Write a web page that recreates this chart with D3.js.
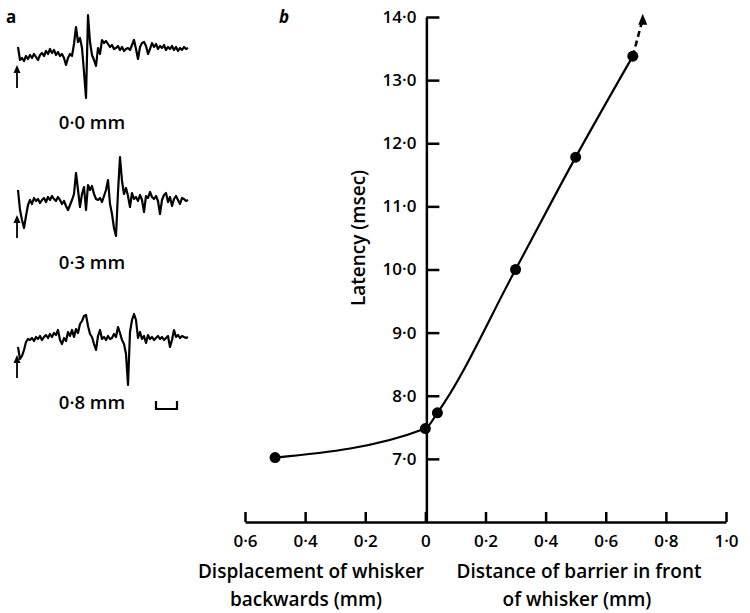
<!DOCTYPE html>
<html>
<head>
<meta charset="utf-8">
<script src="https://cdn.jsdelivr.net/npm/d3@7"></script>
<style>
  body { margin: 0; background: #fff; }
  svg text { font-family: "Open Sans", sans-serif; font-weight: 600; fill: #000; }
</style>
</head>
<body>
<div id="chart"></div>
<script>
// panel b data: distance (mm, negative = whisker displaced backwards) vs latency (msec)
const distance = [-0.5, 0, 0.04, 0.3, 0.5, 0.69];
const latency = [7.02, 7.48, 7.73, 10.0, 11.78, 13.38];
// dashed continuation beyond last point
const extDistance = [0.69, 0.723];
const extLatency = [13.38, 14.05];

const xTicks = [-0.6, -0.4, -0.2, 0, 0.2, 0.4, 0.6, 0.8, 1.0];
const yTicks = [7, 8, 9, 10, 11, 12, 13, 14];

// panel a: sampled potentials (arbitrary amplitude, up = positive)
const trace00 = [5, -8, -6, -9, -4, -7, -3, -6, -2, -5, -8, -3, -1, -4, 1, -2, 3, -1, 2, -3, 0, -4, -2, -6, -13,
  -6, -2, -4, 8, 25, 10, 14, 4, -20, -46, 37, 10, -3, -8, -14, 4, -2, 12, 9, 11, 8, 5, 7, 3, 4, 6, 2, 5, 1, 3,
  4, 2, 7, 12, 3, -7, 5, 9, 10, 6, -2, 3, 9, 5, 8, 3, 6, 4, 7, 2, 5, 3, 6, 2, 5, 1, 4, 2, 5, 3, 4];
const trace03 = [12, -8, -18, -26, -14, -3, 2, -2, 4, 1, 3, -1, 2, 4, 0, 5, 2, 6, 3, 1, 5, 2, -2, 1, -4,
  -8, -3, 2, 8, 29, 12, -5, 8, 15, -8, 17, 12, 16, 8, 3, 2, 4, 0, 6, 12, 22, -2, -12, -26, -34, 10, 45, 21, 8, 14,
  6, -5, 9, 3, 5, 1, 7, 2, -10, 6, 4, 10, 5, 3, 6, 1, -12, 2, 7, 9, 0, 5, -4, 3, 6, 2, -2, 4, 3, 1, 2];
const trace08 = [-5, -17, -14, -8, 0, 3, 2, 4, 1, 5, 3, 6, 2, 5, 7, 4, 8, 5, 9, 7, 12, 2, -2, 4, 1,
  10, 6, 12, 5, 13, 9, 18, 21, 26, 27, 16, 8, 5, -2, -8, 6, 12, 3, 5, 2, 6, 3, 4, 8, 5, 15, 9, 2, -2, -12,
  -43, 10, 22, 28, 22, 4, 10, 3, 6, -1, 7, 3, 5, 2, 4, 6, 3, 5, 2, 4, 6, -5, 2, 12, 5, 7, 4, 6, 5, 4, 5];
const traces = [trace00, trace03, trace08];
const traceLabels = ["0·0 mm", "0·3 mm", "0·8 mm"];
const traceBase = [52, 202, 342];
const labelBase = [129, 269, 409];

const W = 750, H = 613;
const svg = d3.select("#chart").append("svg")
    .attr("width", W)
    .attr("height", H);

// ---------- panel b ----------
const x = d3.scaleLinear().domain([-0.6, 1.0]).range([245, 726]);
const y = d3.scaleLinear().domain([6, 14]).range([522, 17]);

const fmt = d => d === 0 ? "0" : d3.format(".1f")(Math.abs(d)).replace(".", "·");

// x axis, ticks pointing up
const xAxis = svg.append("g")
    .attr("transform", "translate(0," + y(6) + ")")
    .call(d3.axisBottom(x).tickValues(xTicks).tickSize(-10).tickSizeOuter(0).tickPadding(13).tickFormat(fmt));
xAxis.select(".domain").attr("stroke-width", 2.5);
xAxis.selectAll(".tick line").attr("stroke-width", 2.5);
xAxis.selectAll(".tick text").style("font-size", "17px").style("font-family", "'Open Sans', sans-serif");

// y axis at distance 0, ticks pointing right, labels to the left
const yAxis = svg.append("g")
    .attr("transform", "translate(" + (x(0) + 1) + ",0)")
    .call(d3.axisLeft(y).tickValues(yTicks).tickSize(-13).tickSizeOuter(0).tickPadding(10)
        .tickFormat(d => d3.format(".1f")(d).replace(".", "·")));
yAxis.select(".domain").attr("stroke-width", 2.5);
yAxis.selectAll(".tick line").attr("stroke-width", 2.5);
yAxis.selectAll(".tick text").style("font-size", "17px").style("font-family", "'Open Sans', sans-serif");

// curve
const pts = distance.map((d, i) => [d, latency[i]]);
const line = d3.line()
    .x(d => x(d[0]))
    .y(d => y(d[1]))
    .curve(d3.curveMonotoneX);
svg.append("path")
    .attr("d", line(pts))
    .attr("fill", "none")
    .attr("stroke", "#000")
    .attr("stroke-width", 2.2);

// dashed extension with arrowhead
const ext = extDistance.map((d, i) => [d, extLatency[i]]);
svg.append("path")
    .attr("d", d3.line().x(d => x(d[0])).y(d => y(d[1]))([ext[0], [ext[1][0] - 0.004, ext[1][1] - 0.15]]))
    .attr("fill", "none")
    .attr("stroke", "#000")
    .attr("stroke-width", 2.5)
    .attr("stroke-dasharray", "6,4");
const tip = [x(ext[1][0]), y(ext[1][1])];
svg.append("path")
    .attr("d", "M" + tip[0] + "," + tip[1] + "l-4.5,11l9,0z")
    .attr("fill", "#000");

// markers
svg.selectAll("circle.pt")
    .data(pts)
    .enter().append("circle")
    .attr("class", "pt")
    .attr("cx", d => x(d[0]))
    .attr("cy", d => y(d[1]))
    .attr("r", 5.5)
    .attr("fill", "#000");

// axis titles
svg.append("text")
    .attr("transform", "translate(365," + 238 + ") rotate(-90)")
    .attr("text-anchor", "middle")
    .style("font-size", "19px")
    .text("Latency (msec)");

const titleL = [["Displacement of whisker", 311, 578], ["backwards (mm)", 306, 606]];
const titleR = [["Distance of barrier in front", 579, 578], ["of whisker (mm)", 577, 606]];
svg.selectAll("text.xt")
    .data(titleL.concat(titleR))
    .enter().append("text")
    .attr("class", "xt")
    .attr("x", d => d[1])
    .attr("y", d => d[2])
    .attr("text-anchor", "middle")
    .style("font-size", "19px")
    .text(d => d[0]);

svg.append("text")
    .attr("x", 279).attr("y", 23)
    .style("font-size", "17px").style("font-style", "italic").style("font-weight", 700)
    .text("b");

// ---------- panel a ----------
svg.append("text")
    .attr("x", 6).attr("y", 23)
    .style("font-size", "17px").style("font-weight", 700)
    .text("a");

const amp = d3.scaleLinear().domain([-50, 50]).range([50, -50]);

traces.forEach((tr, k) => {
    const tx = d3.scaleLinear().domain([0, tr.length - 1]).range([18, 188]);
    const g = svg.append("g").attr("transform", "translate(0," + traceBase[k] + ")");
    g.append("path")
        .attr("d", d3.line().x((d, i) => tx(i)).y(d => amp(d))(tr))
        .attr("fill", "none")
        .attr("stroke", "#000")
        .attr("stroke-width", 2.2)
        .attr("stroke-linejoin", "round");
    // stimulus arrow
    g.append("line")
        .attr("x1", 17).attr("x2", 17)
        .attr("y1", amp(-36)).attr("y2", amp(-18))
        .attr("stroke", "#000").attr("stroke-width", 1.8);
    g.append("path")
        .attr("d", "M17," + amp(-13) + "l-3.5,8l7,0z")
        .attr("fill", "#000");
    svg.append("text")
        .attr("x", 92).attr("y", labelBase[k])
        .attr("text-anchor", "middle")
        .style("font-size", "18.5px")
        .text(traceLabels[k]);
});

// time scale bar
svg.append("path")
    .attr("d", "M156,401V409H177V401")
    .attr("fill", "none")
    .attr("stroke", "#000")
    .attr("stroke-width", 2.2);
</script>
</body>
</html>
